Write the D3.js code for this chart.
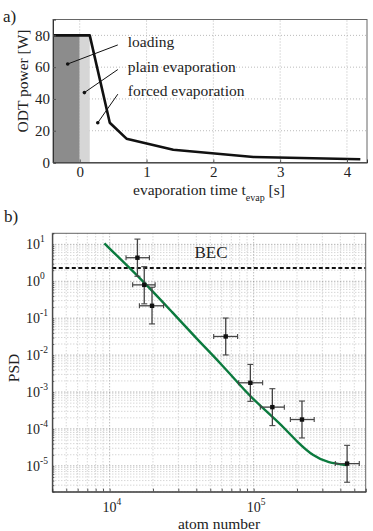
<!DOCTYPE html>
<html>
<head>
<meta charset="utf-8">
<script src="https://cdn.jsdelivr.net/npm/d3@7"></script>
<style>
  body { margin: 0; background: #fff; }
  svg { display: block; font-family: "Liberation Serif", "DejaVu Serif", serif; }
</style>
</head>
<body>
<div id="chart"></div>
<script>
// ---- panel a data: ODT power ramp ----
var rampTime  = [-0.4, 0.15, 0.45, 0.7, 1.4, 2.6, 4.2];
var rampPower = [80, 80, 25, 15, 8, 3.5, 2];
var phaseStart = [-0.4, 0];
var phaseEnd   = [0, 0.15];
var phaseTop   = 80;
var xTicksA = [0, 1, 2, 3, 4];
var yTicksA = [0, 20, 40, 60, 80];
var annoText = ["loading", "plain evaporation", "forced evaporation"];
var annoDotT = [-0.18, 0.07, 0.27];
var annoDotP = [62, 44, 25];
var annoEndT = [0.57, 0.57, 0.57];
var annoEndP = [74, 58.5, 43];
var annoTextT = 0.72;

// ---- panel b data: PSD vs atom number ----
var atomN   = [15600, 17400, 19700, 64000, 94900, 134900, 216600, 445700];
var atomLo  = [13000, 14450, 16100, 52800, 78700, 111300, 179900, 369000];
var atomHi  = [18900, 20700, 23700, 77400, 115500, 163300, 263300, 541500];
var psd     = [4.35, 0.80, 0.217, 0.032, 1.78e-3, 3.9e-4, 1.8e-4, 1.15e-5];
var psdLo   = [1.37, 0.245, 0.07, 0.0101, 5.6e-4, 1.23e-4, 5.7e-5, 3.6e-6];
var psdHi   = [13.9, 2.49, 0.69, 0.101, 5.6e-3, 1.23e-3, 5.7e-4, 3.6e-5];
var fitN    = [9200, 17700, 26400, 40500, 58900, 80900, 100000, 134000, 166000, 200000, 261000, 330000, 446000];
var fitPsd  = [10.6, 0.89, 0.165, 0.027, 6e-3, 1.5e-3, 6.2e-4, 2.2e-4, 1e-4, 4.5e-5, 1.8e-5, 1.2e-5, 1.05e-5];
var becLevel = 2.3;
var xTicksB = [1e4, 1e5];
var yTicksB = [1e1, 1e0, 1e-1, 1e-2, 1e-3, 1e-4, 1e-5];

var svg = d3.select("#chart").append("svg")
    .attr("width", 373)
    .attr("height", 531);

// ================= panel a =================
var xa = d3.scaleLinear().domain([-0.4, 4.3]).range([53, 367]);
var ya = d3.scaleLinear().domain([0, 90]).range([162.5, 19.5]);

var ga = svg.append("g");

// grid
ga.selectAll("line.gx").data(xTicksA).enter().append("line")
    .attr("x1", function(d) { return xa(d); }).attr("x2", function(d) { return xa(d); })
    .attr("y1", ya(0)).attr("y2", ya(90))
    .attr("stroke", "#aaa").attr("stroke-width", 0.8).attr("stroke-dasharray", "1,2");
ga.selectAll("line.gy").data(yTicksA.slice(1)).enter().append("line")
    .attr("x1", xa(-0.4)).attr("x2", xa(4.3))
    .attr("y1", function(d) { return ya(d); }).attr("y2", function(d) { return ya(d); })
    .attr("stroke", "#aaa").attr("stroke-width", 0.8).attr("stroke-dasharray", "1,2");

// shaded phases
var phaseFill = ["#8c8c8c", "#d6d6d6"];
ga.selectAll("rect.phase").data(phaseStart).enter().append("rect")
    .attr("x", function(d) { return xa(d); })
    .attr("y", ya(phaseTop))
    .attr("width", function(d, i) { return xa(phaseEnd[i]) - xa(d); })
    .attr("height", ya(0) - ya(phaseTop))
    .attr("fill", function(d, i) { return phaseFill[i]; });

// power ramp
var rampLine = d3.line()
    .x(function(d, i) { return xa(rampTime[i]); })
    .y(function(d) { return ya(d); });
ga.append("path")
    .datum(rampPower)
    .attr("d", rampLine)
    .attr("fill", "none")
    .attr("stroke", "#111")
    .attr("stroke-width", 2.6)
    .attr("stroke-linejoin", "round");

// annotations
annoText.forEach(function(t, i) {
    ga.append("line")
        .attr("x1", xa(annoDotT[i])).attr("y1", ya(annoDotP[i]))
        .attr("x2", xa(annoEndT[i])).attr("y2", ya(annoEndP[i]))
        .attr("stroke", "#111").attr("stroke-width", 1);
    ga.append("circle")
        .attr("cx", xa(annoDotT[i])).attr("cy", ya(annoDotP[i]))
        .attr("r", 1.8).attr("fill", "#111");
    ga.append("text")
        .attr("x", xa(annoTextT)).attr("y", ya(annoEndP[i]) + 2)
        .attr("font-size", 15.5).attr("fill", "#222")
        .text(t);
});

// frame + axes
ga.append("rect")
    .attr("x", xa(-0.4)).attr("y", ya(90))
    .attr("width", xa(4.3) - xa(-0.4)).attr("height", ya(0) - ya(90))
    .attr("fill", "none").attr("stroke", "#666").attr("stroke-width", 1);

var axA = ga.append("g")
    .attr("transform", "translate(0," + ya(0) + ")")
    .call(d3.axisBottom(xa).tickValues(xTicksA).tickSize(-3).tickPadding(4).tickFormat(d3.format("d")));
var ayA = ga.append("g")
    .attr("transform", "translate(" + xa(-0.4) + ",0)")
    .call(d3.axisLeft(ya).tickValues(yTicksA).tickSize(-3).tickPadding(3));
[axA, ayA].forEach(function(a) {
    a.select(".domain").attr("stroke", "#333");
    a.selectAll(".tick line").attr("stroke", "#555");
    a.selectAll("text").attr("font-family", "Liberation Serif").attr("font-size", 15).attr("fill", "#222");
});

// axis labels
var xlabA = ga.append("text")
    .attr("x", 209).attr("y", 195)
    .attr("text-anchor", "middle")
    .attr("font-size", 15.5).attr("fill", "#222");
xlabA.append("tspan").text("evaporation time t");
xlabA.append("tspan").attr("font-size", 10).attr("dy", 6).text("evap");
xlabA.append("tspan").attr("dy", -6).text(" [s]");

ga.append("text")
    .attr("transform", "translate(28," + 81 + ") rotate(-90)")
    .attr("text-anchor", "middle")
    .attr("font-size", 15.5).attr("fill", "#222")
    .text("ODT power [W]");

svg.append("text").attr("x", 3).attr("y", 22)
    .attr("font-size", 17).attr("fill", "#222").text("a)");

// ================= panel b =================
var xb = d3.scaleLog().domain([4000, 600000]).range([52.3, 365.7]);
var yb = d3.scaleLog().domain([Math.pow(10, -5.7), Math.pow(10, 1.3)]).range([491.7, 233.3]);

var gb = svg.append("g");

// minor + major grid
var xMinor = [], yMinor = [];
for (var e = 3; e <= 5; e++) {
    for (var m = 1; m <= 9; m++) {
        var v = m * Math.pow(10, e);
        if (v > 4000 && v < 600000) xMinor.push(v);
    }
}
for (var e2 = -6; e2 <= 1; e2++) {
    for (var m2 = 1; m2 <= 9; m2++) {
        var v2 = m2 * Math.pow(10, e2);
        if (v2 > yb.domain()[0] && v2 < yb.domain()[1]) yMinor.push(v2);
    }
}
gb.selectAll("line.mx").data(xMinor).enter().append("line")
    .attr("x1", function(d) { return xb(d); }).attr("x2", function(d) { return xb(d); })
    .attr("y1", 233.3).attr("y2", 491.7)
    .attr("stroke", function(d) { return xTicksB.indexOf(d) >= 0 ? "#888" : "#b8b8b8"; })
    .attr("stroke-width", 0.8).attr("stroke-dasharray", "1,2");
gb.selectAll("line.my").data(yMinor).enter().append("line")
    .attr("x1", 52.3).attr("x2", 365.7)
    .attr("y1", function(d) { return yb(d); }).attr("y2", function(d) { return yb(d); })
    .attr("stroke", function(d) { return yTicksB.indexOf(d) >= 0 ? "#777" : "#b8b8b8"; })
    .attr("stroke-width", 0.8).attr("stroke-dasharray", "1,2");

// BEC threshold
gb.append("line")
    .attr("x1", 52.3).attr("x2", 365.7)
    .attr("y1", yb(becLevel)).attr("y2", yb(becLevel))
    .attr("stroke", "#111").attr("stroke-width", 2).attr("stroke-dasharray", "4,2.5");
gb.append("text")
    .attr("x", 211).attr("y", 257.5)
    .attr("text-anchor", "middle")
    .attr("font-size", 17).attr("fill", "#222")
    .text("BEC");

// model curve
var fitLine = d3.line()
    .x(function(d, i) { return xb(fitN[i]); })
    .y(function(d) { return yb(d); })
    .curve(d3.curveBasis);
gb.append("path")
    .datum(fitPsd)
    .attr("d", fitLine)
    .attr("fill", "none")
    .attr("stroke", "#0b7a3e")
    .attr("stroke-width", 2.4);

// error bars
var pts = gb.selectAll("g.pt").data(atomN).enter().append("g");
pts.append("line")
    .attr("x1", function(d) { return xb(d); }).attr("x2", function(d) { return xb(d); })
    .attr("y1", function(d, i) { return yb(psdLo[i]); }).attr("y2", function(d, i) { return yb(psdHi[i]); })
    .attr("stroke", "#444").attr("stroke-width", 1.3);
pts.append("line")
    .attr("x1", function(d, i) { return xb(atomLo[i]); }).attr("x2", function(d, i) { return xb(atomHi[i]); })
    .attr("y1", function(d, i) { return yb(psd[i]); }).attr("y2", function(d, i) { return yb(psd[i]); })
    .attr("stroke", "#444").attr("stroke-width", 1.3);
// caps
[psdLo, psdHi].forEach(function(arr) {
    pts.append("line")
        .attr("x1", function(d) { return xb(d) - 3; }).attr("x2", function(d) { return xb(d) + 3; })
        .attr("y1", function(d, i) { return yb(arr[i]); }).attr("y2", function(d, i) { return yb(arr[i]); })
        .attr("stroke", "#444").attr("stroke-width", 1.1);
});
[atomLo, atomHi].forEach(function(arr) {
    pts.append("line")
        .attr("x1", function(d, i) { return xb(arr[i]); }).attr("x2", function(d, i) { return xb(arr[i]); })
        .attr("y1", function(d, i) { return yb(psd[i]) - 2.5; }).attr("y2", function(d, i) { return yb(psd[i]) + 2.5; })
        .attr("stroke", "#444").attr("stroke-width", 1.1);
});
pts.append("rect")
    .attr("x", function(d) { return xb(d) - 2.2; })
    .attr("y", function(d, i) { return yb(psd[i]) - 2.2; })
    .attr("width", 4.4).attr("height", 4.4)
    .attr("fill", "#111");

// frame
gb.append("rect")
    .attr("x", 52.3).attr("y", 233.3)
    .attr("width", 365.7 - 52.3).attr("height", 491.7 - 233.3)
    .attr("fill", "none").attr("stroke", "#666").attr("stroke-width", 1);

var axB = gb.append("g")
    .attr("transform", "translate(0,491.7)")
    .call(d3.axisBottom(xb).tickValues(xMinor).tickSize(-3).tickPadding(9).tickFormat(""));
var ayB = gb.append("g")
    .attr("transform", "translate(52.3,0)")
    .call(d3.axisLeft(yb).tickValues(yMinor).tickSize(-2).tickPadding(7).tickFormat(""));
[axB, ayB].forEach(function(a) {
    a.select(".domain").attr("stroke", "#333");
    a.selectAll(".tick line").attr("stroke", "#555");
});

// power-of-ten tick labels
function sup(sel, d) {
    var ex = Math.round(Math.log10(d));
    sel.append("tspan").text("10");
    sel.append("tspan").attr("font-size", 9.5).attr("dy", -7).text(ex);
}
xTicksB.forEach(function(d) {
    var t = gb.append("text")
        .attr("x", xb(d) - 7).attr("y", 512)
        .attr("font-size", 14).attr("fill", "#222");
    sup(t, d);
});
yTicksB.forEach(function(d) {
    var t = gb.append("text")
        .attr("x", 26).attr("y", yb(d) + 5)
        .attr("font-size", 14).attr("fill", "#222");
    sup(t, d);
});

gb.append("text")
    .attr("x", 219).attr("y", 529)
    .attr("text-anchor", "middle")
    .attr("font-size", 15.5).attr("fill", "#222")
    .text("atom number");
gb.append("text")
    .attr("transform", "translate(18.5,368) rotate(-90)")
    .attr("text-anchor", "middle")
    .attr("font-size", 15.5).attr("fill", "#222")
    .text("PSD");

svg.append("text").attr("x", 4).attr("y", 222)
    .attr("font-size", 17).attr("fill", "#222").text("b)");
</script>
</body>
</html>
